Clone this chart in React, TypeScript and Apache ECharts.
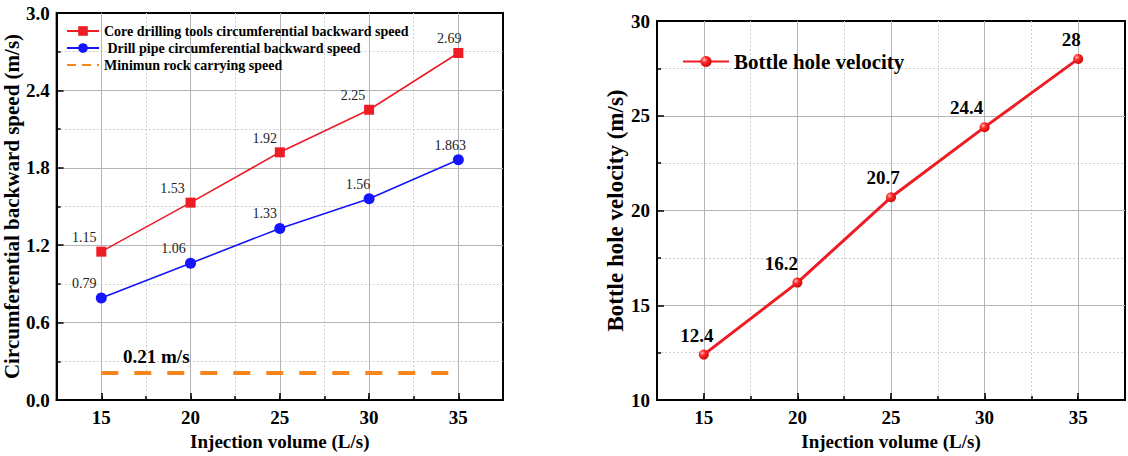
import React, { useEffect, useRef } from 'react';
import * as echarts from 'echarts';

// ---- data ----
const injectionVolume = [15, 20, 25, 30, 35];
const coreToolSpeed = [1.15, 1.53, 1.92, 2.25, 2.69];
const drillPipeSpeed = [0.79, 1.06, 1.33, 1.56, 1.863];
const minRockSpeed = 0.21;
const minRockRange = [15, 35];
const bottomHoleVelocity = [12.4, 16.2, 20.7, 24.4, 28];
const leftNames = [
  'Core drilling tools circumferential backward speed',
  ' Drill pipe circumferential backward speed',
  'Minimun rock carrying speed',
];
const rightName = 'Bottle hole velocity';
const xAxisTitle = 'Injection volume (L/s)';
const leftYTitle = 'Circumferential backward speed (m/s)';
const rightYTitle = 'Bottle hole velocity (m/s)';

const FF = "'Liberation Serif', 'Times New Roman', serif";
const RED = '#ee1c25';
const BLUE = '#1414ff';
const ORANGE = '#f7861c';

const redDx = [-17, -18, -15, -16, -9];
const blueDx = [-17, -17, -15, -11, -8];
const rightDx = [-7, -16, -8, -18, -7];

function majorX(gridIndex: number) {
  return {
    type: 'value',
    gridIndex,
    position: 'bottom',
    min: 12.5,
    max: 37.5,
    splitNumber: 5,
    z: 3,
    axisLine: { show: true, onZero: false, lineStyle: { color: '#000', width: 2 } },
    axisTick: { show: true, inside: true, length: 7, lineStyle: { color: '#000', width: 1.5 } },
    axisLabel: {
      show: true,
      margin: 8,
      color: '#000',
      fontFamily: FF,
      fontWeight: 'bold',
      fontSize: 19,
      formatter: (v: number) => (v % 5 === 0 ? String(v) : ''),
    },
    splitLine: { show: true, showMinLine: false, showMaxLine: false, lineStyle: { color: '#b4b4b4', width: 1 } },
    name: xAxisTitle,
    nameLocation: 'middle',
    nameGap: 30,
    nameTextStyle: { color: '#000', fontFamily: FF, fontWeight: 'bold', fontSize: 19 },
  };
}

function minorX(gridIndex: number) {
  return {
    type: 'value',
    gridIndex,
    position: 'bottom',
    min: 12.5,
    max: 37.5,
    interval: 2.5,
    z: 1,
    axisLine: { show: false },
    axisTick: { show: true, inside: true, length: 4, lineStyle: { color: '#000', width: 1.5 } },
    axisLabel: { show: false },
    splitLine: { show: true, showMinLine: false, showMaxLine: false, lineStyle: { color: '#cfcfcf', width: 1, type: [2, 2] } },
  };
}

function yAxisCfg(gridIndex: number, min: number, max: number, interval: number, name: string, nameGap: number, nameSize: number, fmt: (v: number) => string) {
  return {
    type: 'value',
    gridIndex,
    min,
    max,
    interval,
    z: 3,
    axisLine: { show: true, onZero: false, lineStyle: { color: '#000', width: 2 } },
    axisTick: { show: true, inside: true, length: 7, lineStyle: { color: '#000', width: 1.5 } },
    minorTick: { show: true, splitNumber: 2, length: 4, lineStyle: { color: '#000', width: 1.5 } },
    minorSplitLine: { show: true, lineStyle: { color: '#cfcfcf', width: 1, type: [2, 2] } },
    splitLine: { show: true, showMinLine: false, showMaxLine: false, lineStyle: { color: '#b4b4b4', width: 1 } },
    axisLabel: { margin: 7, color: '#000', fontFamily: FF, fontWeight: 'bold', fontSize: 19, formatter: fmt },
    name,
    nameLocation: 'middle',
    nameGap,
    nameTextStyle: { color: '#000', fontFamily: FF, fontWeight: 'bold', fontSize: nameSize },
  };
}

export default function App() {
  const ref = useRef<HTMLDivElement>(null);
  useEffect(() => {
    if (!ref.current) return;
    const chart = echarts.init(ref.current, null, { renderer: 'svg' });

    const smallLabel = { show: true, position: 'top', distance: 2, color: '#222', fontFamily: FF, fontSize: 14 };

    const redData = injectionVolume.map((x, i) => ({
      value: [x, coreToolSpeed[i]],
      label: { offset: [redDx[i], 0] },
    }));
    const blueData = injectionVolume.map((x, i) => ({
      value: [x, drillPipeSpeed[i]],
      label: { offset: [blueDx[i], 0] },
    }));
    const rightData = injectionVolume.map((x, i) => ({
      value: [x, bottomHoleVelocity[i]],
      label: { offset: [rightDx[i], 0] },
    }));

    const option = {
      animation: false,
      backgroundColor: '#fff',
      grid: [
        { left: 55, top: 13, width: 448, height: 387, show: true, borderColor: '#000', borderWidth: 2, backgroundColor: 'transparent' },
        { left: 657, top: 21, width: 472, height: 381, show: true, borderColor: '#000', borderWidth: 2, backgroundColor: 'transparent' },
      ],
      legend: [
        {
          orient: 'vertical',
          left: 61,
          top: 19,
          itemWidth: 32,
          itemHeight: 12,
          itemGap: 3,
          textStyle: { color: '#000', fontFamily: FF, fontWeight: 'bold', fontSize: 14 },
          data: [
            { name: leftNames[0] },
            { name: leftNames[1] },
            { name: leftNames[2], itemStyle: { opacity: 0 }, lineStyle: { type: [9, 6], width: 2 } },
          ],
        },
        {
          left: 677,
          top: 46,
          itemWidth: 46,
          itemHeight: 14,
          textStyle: { color: '#000', fontFamily: FF, fontWeight: 'bold', fontSize: 21 },
          data: [{ name: rightName }],
        },
      ],
      xAxis: [majorX(0), minorX(0), majorX(1), minorX(1)],
      yAxis: [
        yAxisCfg(0, 0, 3, 0.6, leftYTitle, 23, 21, (v: number) => v.toFixed(1)),
        yAxisCfg(1, 10, 30, 5, rightYTitle, 23, 23, (v: number) => String(v)),
      ],
      series: [
        {
          name: leftNames[0],
          type: 'line',
          xAxisIndex: 0,
          yAxisIndex: 0,
          data: redData,
          symbol: 'rect',
          symbolSize: 10,
          color: RED,
          lineStyle: { color: RED, width: 1.6 },
          label: { ...smallLabel, formatter: (p: any) => String(p.value[1]) },
          z: 5,
        },
        {
          name: leftNames[1],
          type: 'line',
          xAxisIndex: 0,
          yAxisIndex: 0,
          data: blueData,
          symbol: 'circle',
          symbolSize: 11,
          color: BLUE,
          lineStyle: { color: BLUE, width: 1.6 },
          label: { ...smallLabel, formatter: (p: any) => String(p.value[1]) },
          z: 5,
        },
        {
          name: leftNames[2],
          type: 'line',
          xAxisIndex: 0,
          yAxisIndex: 0,
          data: minRockRange.map((x) => [x, minRockSpeed]),
          symbol: 'none',
          color: ORANGE,
          lineStyle: { color: ORANGE, width: 4, type: [17, 16] },
          z: 4,
          markPoint: {
            symbol: 'circle',
            symbolSize: 0,
            data: [{ coord: [minRockRange[0], minRockSpeed], value: minRockSpeed }],
            label: {
              show: true,
              position: 'top',
              distance: 7,
              offset: [55, 0],
              color: '#000',
              fontFamily: FF,
              fontWeight: 'bold',
              fontSize: 19,
              formatter: () => `${minRockSpeed} m/s`,
            },
          },
        },
        {
          name: rightName,
          type: 'line',
          xAxisIndex: 2,
          yAxisIndex: 1,
          data: rightData,
          symbol: 'circle',
          symbolSize: 10,
          color: RED,
          itemStyle: {
            color: new echarts.graphic.RadialGradient(0.35, 0.35, 0.75, [
              { offset: 0, color: '#ffc0c0' },
              { offset: 0.35, color: '#ff2a2a' },
              { offset: 1, color: '#c80000' },
            ]),
          },
          lineStyle: { color: RED, width: 3 },
          label: {
            show: true,
            position: 'top',
            distance: 5,
            color: '#000',
            fontFamily: FF,
            fontWeight: 'bold',
            fontSize: 19,
            formatter: (p: any) => String(p.value[1]),
          },
          z: 5,
        },
      ],
    };
    chart.setOption(option as any);
    return () => chart.dispose();
  }, []);
  return <div ref={ref} style={{ position: 'absolute', left: 0, top: 0, width: 1128, height: 456 }} />;
}
